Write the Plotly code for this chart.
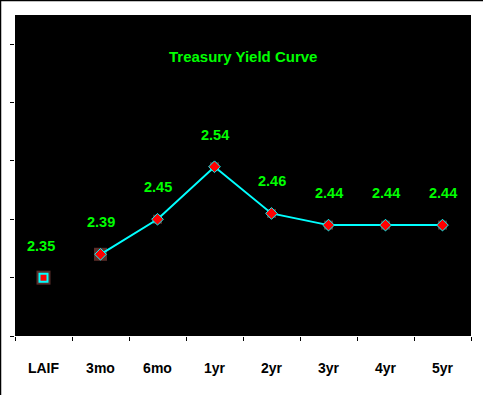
import plotly.graph_objects as go

categories = ["LAIF", "3mo", "6mo", "1yr", "2yr", "3yr", "4yr", "5yr"]
yields = [2.35, 2.39, 2.45, 2.54, 2.46, 2.44, 2.44, 2.44]
labels = ["2.35", "2.39", "2.45", "2.54", "2.46", "2.44", "2.44", "2.44"]
title_text = "Treasury Yield Curve"

FONT = "Liberation Sans, Arial, sans-serif"
GREEN = "#00FF00"
CYAN = "#00FFFF"
BROWN = "#80403A"

fig = go.Figure()

# brown square backdrops
fig.add_trace(go.Scatter(
    x=categories, y=yields, mode="markers",
    marker=dict(symbol="square", size=[14, 13, 9, 9, 9, 9, 9, 9], color=BROWN,
                line=dict(width=0)),
    hoverinfo="skip", showlegend=False))

# LAIF marker
fig.add_trace(go.Scatter(
    x=categories[:1], y=yields[:1], mode="markers",
    marker=dict(symbol="square", size=8, color="red", line=dict(color=CYAN, width=2)),
    showlegend=False))

# Treasury curve
fig.add_trace(go.Scatter(
    x=categories[1:], y=yields[1:], mode="lines+markers",
    line=dict(color=CYAN, width=2),
    marker=dict(symbol="diamond", size=9, color="red", line=dict(color=CYAN, width=1)),
    showlegend=False))

annotations = [
    dict(x=c, y=v, text=t, showarrow=False, yshift=32, xshift=-3 if i == 0 else 0,
         font=dict(family=FONT, size=14.5, color=GREEN, weight="bold"))
    for i, (c, v, t) in enumerate(zip(categories, yields, labels))
]
annotations.append(dict(
    xref="paper", yref="paper", x=0.5, y=0.872, yanchor="middle", xanchor="center",
    text=title_text, showarrow=False,
    font=dict(family=FONT, size=15, color=GREEN, weight="bold")))

L, R, T, B = 15, 12, 15, 59
W, H = 483, 395
pw, ph = W - L - R, H - T - B
shapes = [
    dict(type="line", xref="paper", yref="paper", x0=-L / pw, x1=(W - L) / pw,
         y0=1 + (T - 0.5) / ph, y1=1 + (T - 0.5) / ph, line=dict(color="black", width=1.5)),
    dict(type="line", xref="paper", yref="paper", x0=-(L - 0.5) / pw, x1=-(L - 0.5) / pw,
         y0=-B / ph, y1=1 + T / ph, line=dict(color="black", width=1.5)),
]

fig.update_layout(
    width=W, height=H,
    margin=dict(l=L, r=R, t=T, b=B, pad=0),
    paper_bgcolor="white", plot_bgcolor="black",
    annotations=annotations, shapes=shapes,
    xaxis=dict(type="category", range=[-0.5, 7.5], tickson="boundaries",
               ticks="outside", ticklen=4, tickcolor="black", showgrid=False,
               zeroline=False, showline=False, fixedrange=True,
               tickfont=dict(family=FONT, size=14, color="black", weight="bold"),
               ticklabelstandoff=22),
    yaxis=dict(range=[2.25, 2.80], tick0=2.25, dtick=0.1, ticks="outside", ticklen=4,
               tickcolor="black", showticklabels=False, showgrid=False,
               zeroline=False, showline=False, fixedrange=True),
    font=dict(family=FONT),
)

fig.write_html("out.html", config={"displayModeBar": False},
               post_script="document.body.style.margin='0';document.body.style.overflow='hidden';")
